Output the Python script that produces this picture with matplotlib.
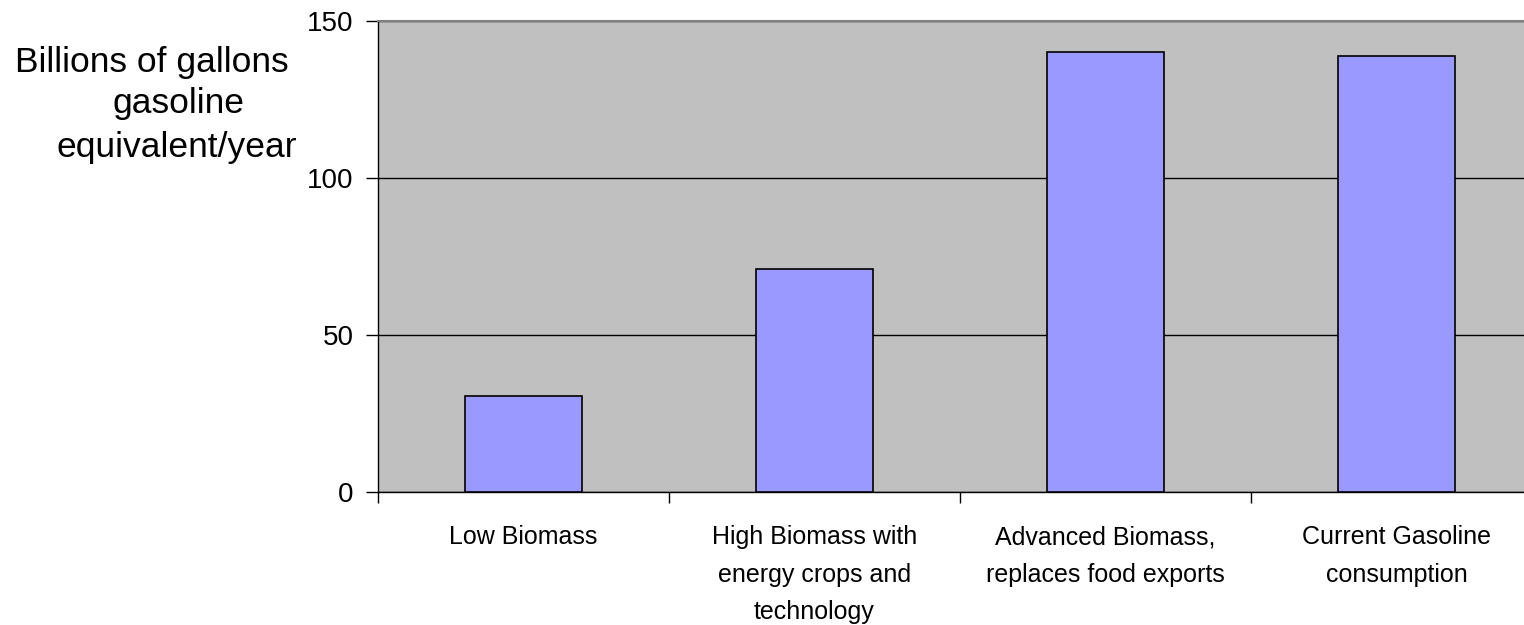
import matplotlib
matplotlib.use("Agg")
import matplotlib.pyplot as plt
import numpy as np

# Data
categories = [
    "Low Biomass",
    "High Biomass with\nenergy crops and\ntechnology",
    "Advanced Biomass,\nreplaces food exports",
    "Current Gasoline\nconsumption",
]
values = [30.5, 71, 140, 139]
y_ticks = [0, 50, 100, 150]
ylabel_lines = ["Billions of gallons", "gasoline", "equivalent/year"]

plt.rcParams["font.family"] = ["Liberation Sans", "DejaVu Sans"]

fig = plt.figure(figsize=(15.24, 6.25), dpi=100)
# plot area runs slightly past the right edge, as in the original
ax = fig.add_axes([378 / 1524, 1 - 492 / 625, (1542 - 378) / 1524, (492 - 21) / 625])
ax.set_facecolor("#C0C0C0")

x = np.arange(len(categories))
ax.bar(x, values, width=0.4, color="#9999FF", edgecolor="black", linewidth=1.2, zorder=3)

ax.set_xlim(-0.5, len(categories) - 0.5)
ax.set_ylim(0, 150)
ax.set_yticks(y_ticks)
ax.yaxis.grid(True, color="black", linewidth=1, zorder=1)
ax.set_axisbelow(True)

# category labels centred, ticks on the category boundaries
ax.set_xticks(x)
ax.set_xticklabels(categories, fontsize=18, linespacing=1.7)
ax.set_xticks(np.arange(-0.5, len(categories)), minor=True)
ax.tick_params(axis="x", which="major", length=0, pad=24)
ax.tick_params(axis="x", which="minor", length=8, width=1, direction="out", color="black")
ax.tick_params(axis="y", length=9, width=1, direction="out", labelsize=20, pad=8.5)

for side in ["left", "bottom"]:
    ax.spines[side].set_color("black")
    ax.spines[side].set_linewidth(1)
ax.spines["top"].set_color("#808080")
ax.spines["top"].set_linewidth(1.5)
ax.spines["right"].set_visible(False)

# y label: three horizontal lines, placed like the original
label_x = [152, 178, 177]
label_base = [72, 113, 157]
for txt, lx, ly in zip(ylabel_lines, label_x, label_base):
    fig.text(lx / 1524, 1 - ly / 625, txt, ha="center", va="baseline", fontsize=25.5)

fig.savefig("out.png", dpi=100)
plt.close(fig)
